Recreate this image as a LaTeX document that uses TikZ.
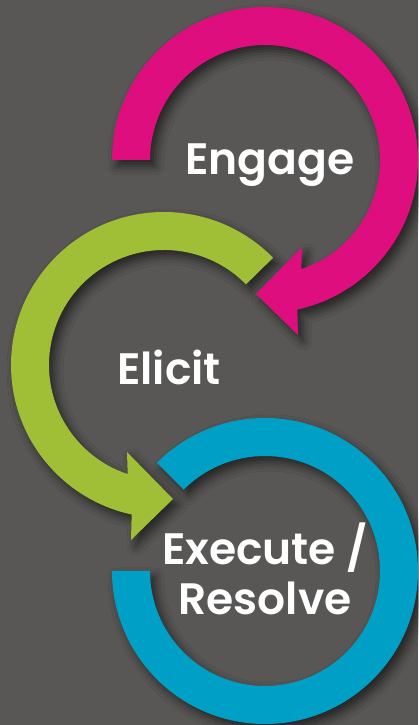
\documentclass[tikz,border=0pt]{standalone}
\usepackage{fontspec}
\setmainfont{Poppins}[BoldFont = * SemiBold]
\usetikzlibrary{shadows.blur}

\definecolor{slate}{RGB}{88,87,85}
\definecolor{engagepink}{RGB}{222,14,126}
\definecolor{elicitgreen}{RGB}{160,190,54}
\definecolor{resolveblue}{RGB}{0,159,198}

\begin{document}
\begin{tikzpicture}[x=1pt, y=1pt,
    ring/.style={blur shadow={shadow xshift=5pt, shadow yshift=-6pt, shadow blur radius=9pt, shadow opacity=60}},
    word/.style={text=white, font=\fontsize{44}{50}\selectfont\bfseries, align=center, anchor=base}]
    \useasboundingbox (0,0) rectangle (418,725);
    \fill[slate] (0,0) rectangle (418,725);

    \coordinate (engage hub)  at (265,565);
    \coordinate (elicit hub)  at (164,360);
    \coordinate (resolve hub) at (265,154);

    % rings, bottom one first
    \fill[resolveblue, ring, shift={(resolve hub)}]
        (180:153) arc[start angle=180, end angle=495, radius=153]
        -- (495:115) arc[start angle=495, end angle=180, radius=115] -- cycle;
    \fill[elicitgreen, ring, shift={(elicit hub)}]
        (44.5:153) arc[start angle=44.5, end angle=257.8, radius=153]
        -- (-33,-175) -- (9,-134) -- (-37,-87)
        -- (251.6:115) arc[start angle=251.6, end angle=44.5, radius=115] -- cycle;
    \fill[engagepink, ring, shift={(engage hub)}]
        (180:153) arc[start angle=180, end angle=-77.8, radius=153]
        -- (33,-175) -- (-9,-134) -- (37,-87)
        -- (-71.6:115) arc[start angle=-71.6, end angle=180, radius=115] -- cycle;

    \node[word] (engage)  at (270,550) {Engage};
    \node[word] (elicit)  at (169,340) {Elicit};
    \node[word] (resolve) at (265,110) {Execute /\\Resolve};
\end{tikzpicture}
\end{document}
